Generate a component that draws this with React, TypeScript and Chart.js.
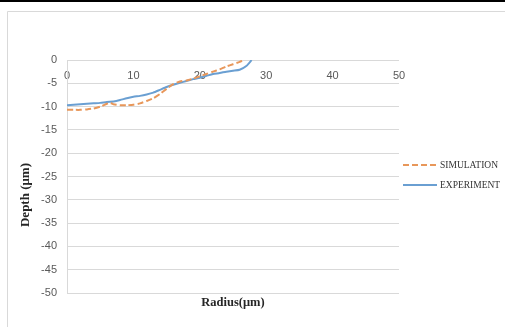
import React, { useEffect, useRef } from "react";
import { Chart, registerables } from "chart.js";

Chart.register(...registerables);

const expRadius = [0, 1, 2, 3, 4, 5, 6, 7, 8, 9, 10, 11, 12, 13, 14, 15, 16, 17, 18, 19, 20, 21, 22, 23, 24, 25, 26, 27, 27.8];
const expDepth = [-9.7, -9.6, -9.5, -9.4, -9.3, -9.2, -9.0, -8.9, -8.6, -8.2, -7.9, -7.7, -7.4, -7.0, -6.4, -5.8, -5.3, -4.9, -4.5, -4.1, -3.8, -3.4, -3.0, -2.8, -2.5, -2.3, -2.1, -1.3, 0];

const simRadius = [0, 1, 2, 3, 4, 5, 6, 6.5, 7, 8, 9, 10, 11, 12, 13, 14, 15, 16, 17, 18, 19, 20, 21, 22, 23, 24, 25, 26, 26.6];
const simDepth = [-10.7, -10.7, -10.7, -10.6, -10.4, -10.0, -9.4, -9.2, -9.5, -9.7, -9.7, -9.6, -9.3, -8.8, -8.2, -7.3, -6.2, -5.2, -4.6, -4.4, -4.0, -3.5, -3.0, -2.5, -2.0, -1.4, -0.9, -0.4, 0];

const seriesNames = ["SIMULATION", "EXPERIMENT"];
const xTitle = "Radius(\u03bcm)";
const yTitle = "Depth (\u03bcm)";

const SIM_COLOR = "#e8975a";
const EXP_COLOR = "#6a9fd2";

export default function App() {
  const ref = useRef<HTMLCanvasElement | null>(null);

  useEffect(() => {
    if (!ref.current) return;
    const decor = {
      id: "decor",
      beforeDraw(chart: any) {
        const ctx = chart.ctx;
        ctx.save();
        ctx.fillStyle = "#ffffff";
        ctx.fillRect(0, 0, chart.width, chart.height);
        ctx.fillStyle = "#000000";
        ctx.fillRect(0, 0, chart.width, 2);
        ctx.strokeStyle = "#d9d9d9";
        ctx.lineWidth = 1;
        ctx.beginPath();
        ctx.moveTo(7.5, chart.height + 5);
        ctx.lineTo(7.5, 11.5);
        ctx.lineTo(chart.width + 5, 11.5);
        ctx.stroke();
        ctx.restore();
      },
      afterDraw(chart: any) {
        const ctx = chart.ctx;
        ctx.save();
        ctx.fillStyle = "#262626";
        ctx.font = "bold 12.5px 'Liberation Serif'";
        ctx.textAlign = "center";
        ctx.textBaseline = "middle";
        ctx.fillText(xTitle, 233, 303);
        ctx.font = "bold 13px 'Liberation Serif'";
        ctx.translate(26, 195);
        ctx.rotate(-Math.PI / 2);
        ctx.fillText(yTitle, 0, 0);
        ctx.restore();

        ctx.save();
        const items = [
          { label: seriesNames[0], color: SIM_COLOR, dash: [6, 3], y: 165 },
          { label: seriesNames[1], color: EXP_COLOR, dash: [], y: 185 },
        ];
        items.forEach((it) => {
          ctx.strokeStyle = it.color;
          ctx.lineWidth = 2;
          ctx.setLineDash(it.dash);
          ctx.beginPath();
          ctx.moveTo(403, it.y);
          ctx.lineTo(437, it.y);
          ctx.stroke();
          ctx.setLineDash([]);
          ctx.fillStyle = "#333333";
          ctx.font = "9.5px 'Liberation Serif'";
          ctx.textAlign = "left";
          ctx.textBaseline = "middle";
          ctx.fillText(it.label, 440, it.y + 0.5);
        });
        ctx.restore();
      },
    };

    const chart = new Chart(ref.current, {
      type: "line",
      data: {
        datasets: [
          {
            label: seriesNames[0],
            data: simRadius.map((r, i) => ({ x: r, y: simDepth[i] })),
            borderColor: SIM_COLOR,
            borderWidth: 2,
            borderDash: [6, 3],
            pointRadius: 0,
            tension: 0.2,
            fill: false,
          },
          {
            label: seriesNames[1],
            data: expRadius.map((r, i) => ({ x: r, y: expDepth[i] })),
            borderColor: EXP_COLOR,
            borderWidth: 2,
            pointRadius: 0,
            tension: 0.2,
            fill: false,
          },
        ],
      },
      options: {
        animation: false,
        responsive: false,
        maintainAspectRatio: false,
        layout: { padding: { left: 0, top: 60, right: 106, bottom: 34 } },
        plugins: {
          legend: { display: false },
          tooltip: { enabled: false },
        },
        scales: {
          x: {
            type: "linear",
            position: { y: 0 } as any,
            min: 0,
            max: 50,
            afterFit: (s: any) => {
              s.height = 0;
            },
            ticks: {
              stepSize: 10,
              color: "#595959",
              font: { family: "'Liberation Sans'", size: 11 },
              padding: 9,
              maxRotation: 0,
            },
            grid: { display: false, drawTicks: false },
            border: { display: false },
          },
          y: {
            type: "linear",
            min: -50,
            max: 0,
            afterFit: (s: any) => {
              s.width = 67;
            },
            ticks: {
              stepSize: 5,
              color: "#595959",
              font: { family: "'Liberation Sans'", size: 11 },
              padding: 10,
            },
            grid: { color: "#d9d9d9", lineWidth: 1, drawTicks: false },
            border: { display: true, color: "#d9d9d9" },
          },
        },
      },
      plugins: [decor],
    });
    return () => chart.destroy();
  }, []);

  return (
    <div style={{ position: "fixed", left: 0, top: 0, width: 505, height: 327 }}>
      <canvas ref={ref} width={505} height={327} style={{ width: 505, height: 327 }} />
    </div>
  );
}
